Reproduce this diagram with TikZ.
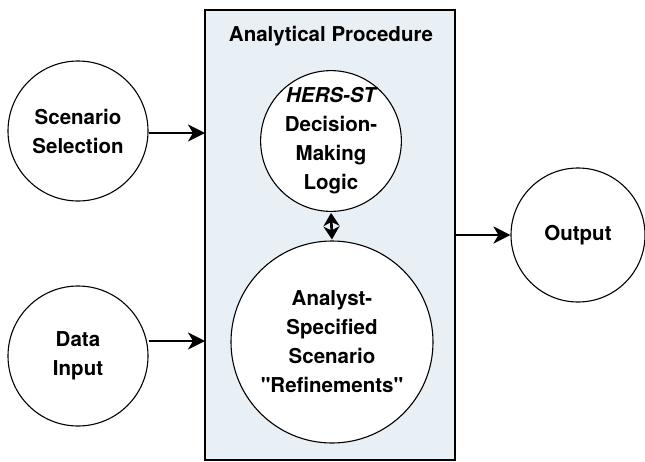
\documentclass[tikz,border=0pt]{standalone}
\usepackage{fontspec}
\setmainfont[Ligatures=TeXOff]{TeX Gyre Heros}
\usetikzlibrary{arrows.meta}
\definecolor{panelblue}{HTML}{E9F0F5}
\begin{document}
\begin{tikzpicture}[x=1pt,y=-1pt,
  bubble/.style={circle,draw=black,line width=1.1pt,fill=white,inner sep=0pt,
    align=center,font=\fontsize{20.5}{29}\selectfont\bfseries},
  flow/.style={line width=2.6pt,-{Stealth[length=17pt,width=17pt,inset=5pt]}},
  flowboth/.style={line width=2.6pt,shorten <=1pt,shorten >=1pt,
    {Stealth[length=13pt,width=16pt,inset=4pt]}-{Stealth[length=13pt,width=16pt,inset=4pt]}}]
  \useasboundingbox (0,0) rectangle (645,461);
  % procedure panel
  \draw[line width=1.4pt,fill=panelblue] (205,10) rectangle (455,460);
  \node[font=\fontsize{20.5}{24}\selectfont\bfseries] (title) at (331,36) {Analytical Procedure};
  \coordinate (inA) at (205,133);
  \coordinate (inB) at (205,341);
  \coordinate (outA) at (455,235);
  % circles
  \node[bubble,minimum size=140pt] (sel) at (78,131) {Scenario\\Selection};
  \node[bubble,minimum size=140pt] (data) at (78,356) {Data\\Input};
  \node[bubble,minimum size=114pt] (logic) at (331,141) {\itshape HERS-ST\\Decision-\\Making\\Logic};
  \node[bubble,minimum size=202pt] (refine) at (332,342) {Analyst-\\Specified\\Scenario\\"Refinements"};
  \node[bubble,minimum size=134pt] (out) at (578,235) {Output};
  % connectors
  \draw[flow] (sel.east |- inA) -- (inA);
  \draw[flow] (data.east |- inB) -- (inB);
  \draw[flow] (outA) -- (out.west);
  \draw[flowboth] (logic.south) -- (refine.north);
\end{tikzpicture}
\end{document}
